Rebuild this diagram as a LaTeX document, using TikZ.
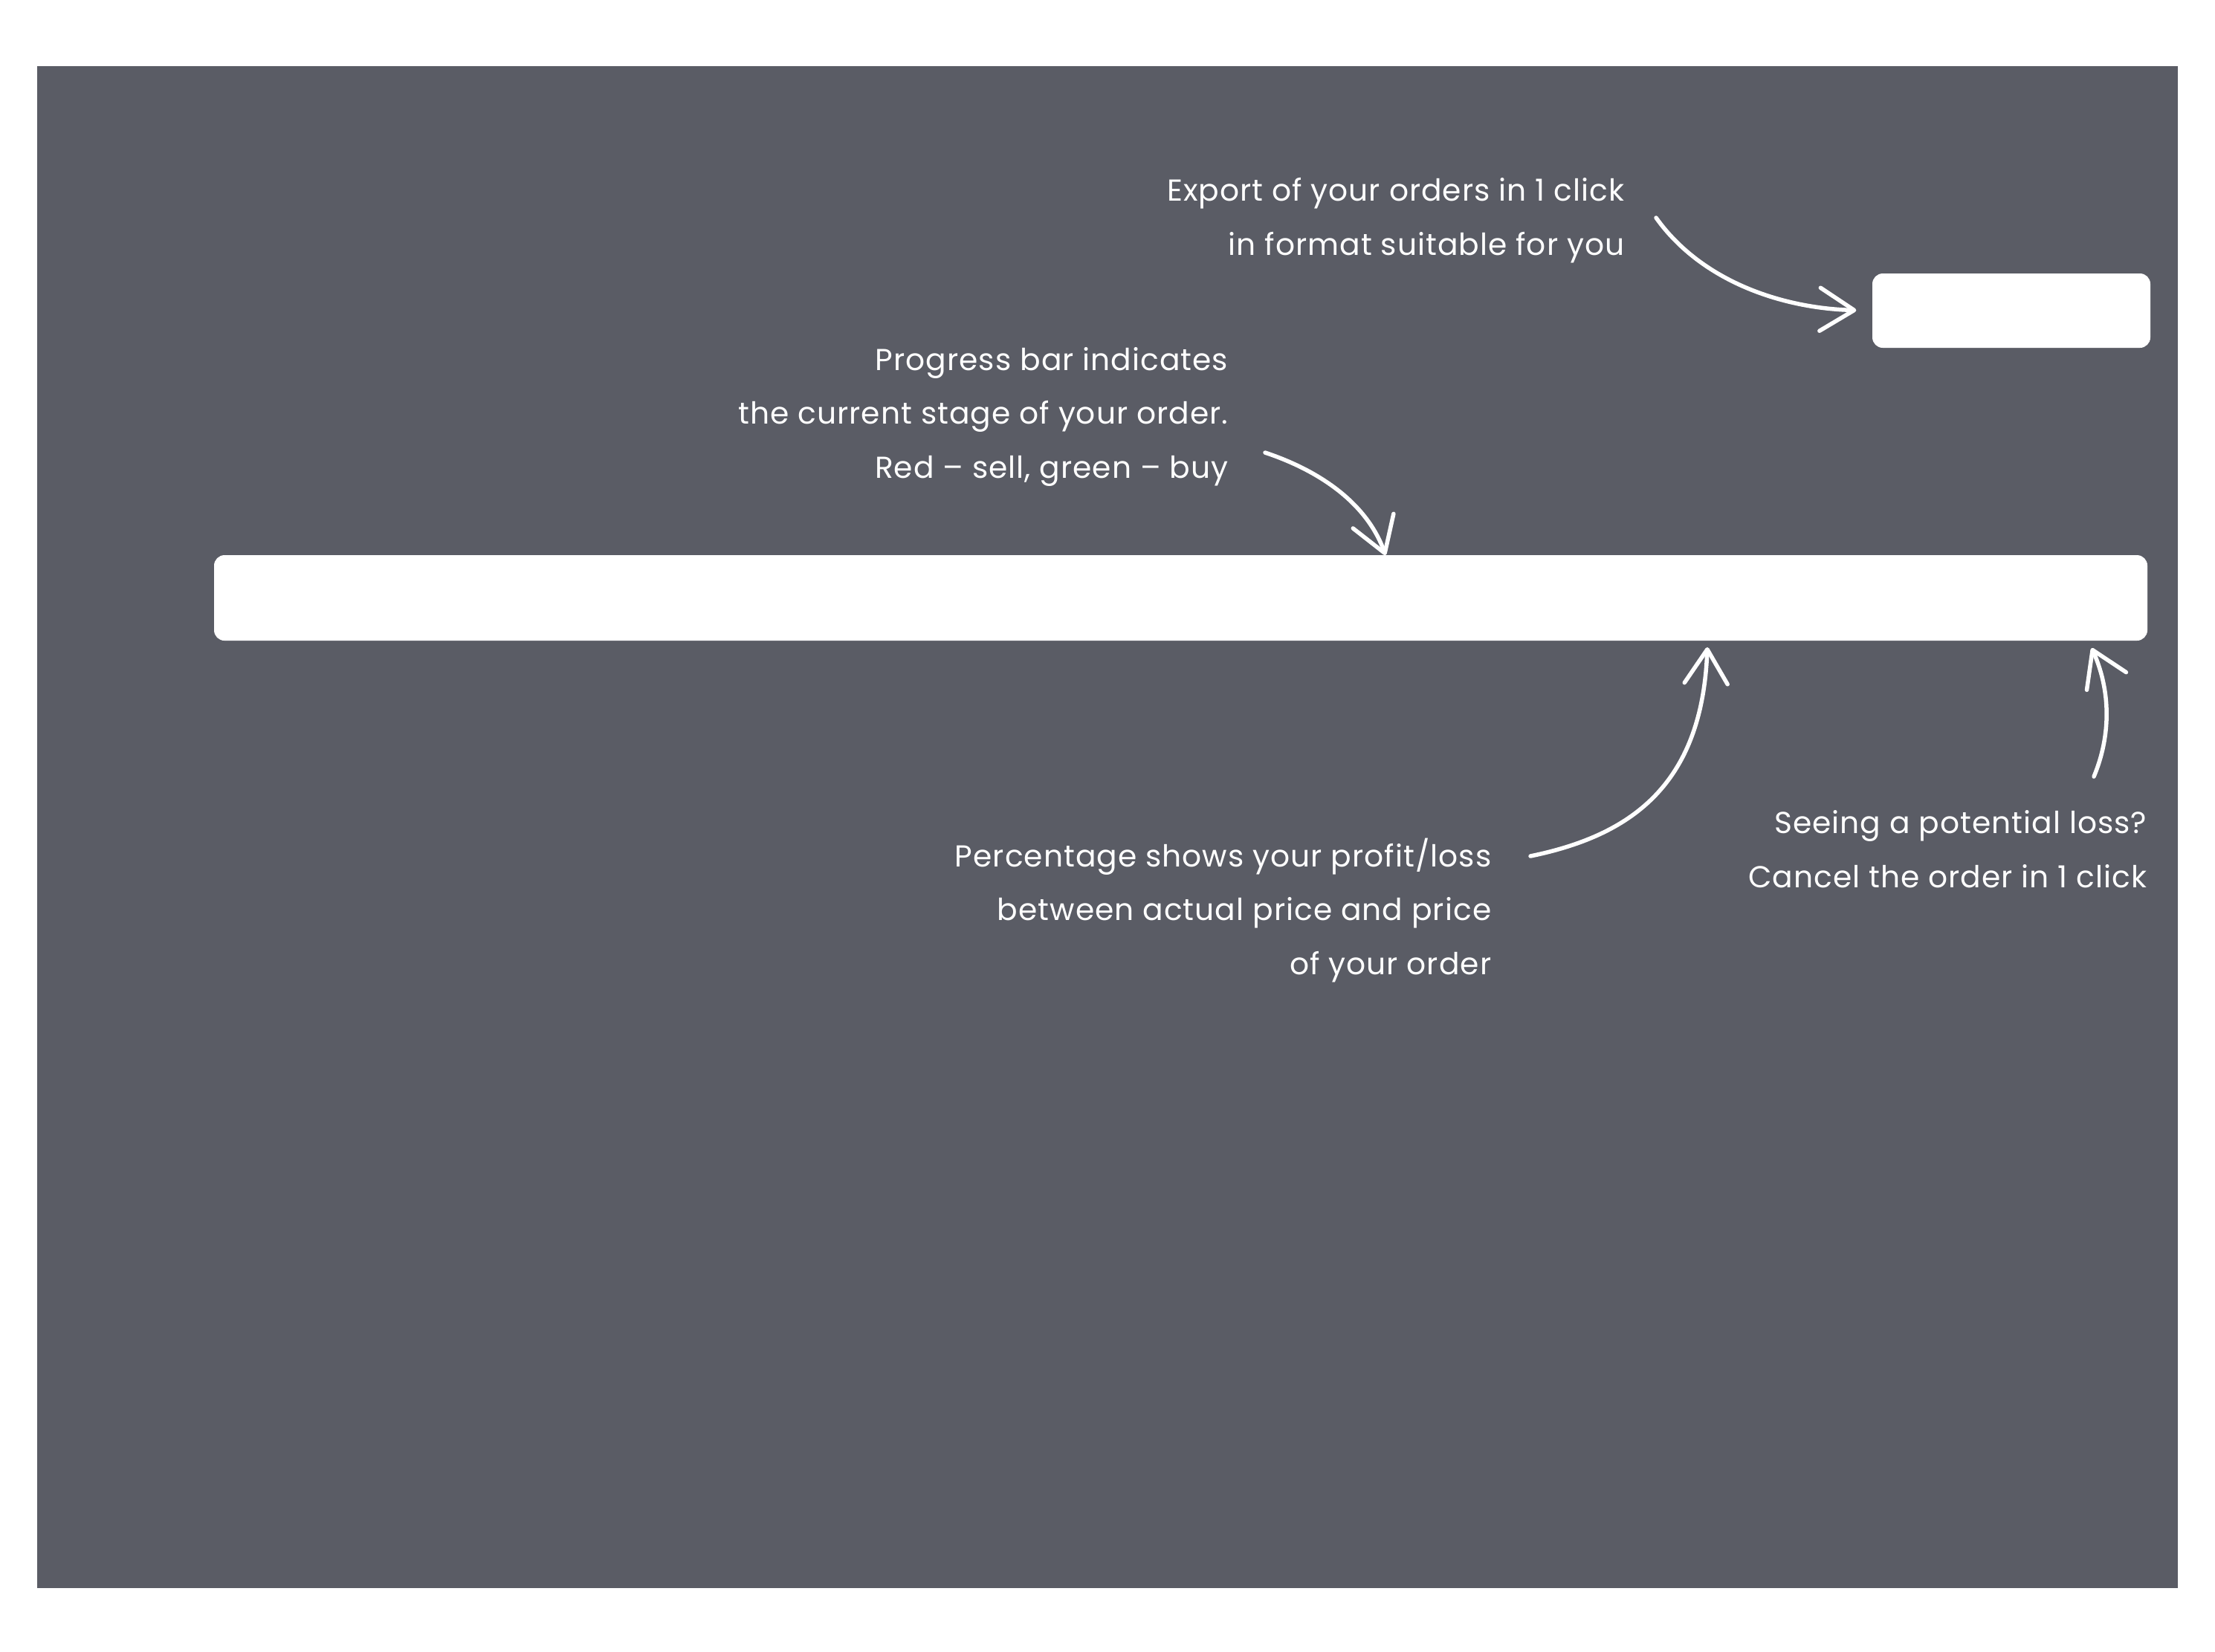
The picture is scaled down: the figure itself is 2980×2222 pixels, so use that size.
\documentclass[tikz,border=0pt]{standalone}
\usepackage{fontspec}
\setmainfont{Poppins}[LetterSpace=2.5]
\usepackage{xcolor}
\usepackage{tikz}
\usetikzlibrary{positioning, arrows.meta}
\definecolor{panel}{HTML}{5A5C65}

\begin{document}
\begin{tikzpicture}[x=0.1mm, y=-0.1mm,
  blk/.style={fill=white, rounded corners=1.4mm, inner sep=0pt},
  note/.style={text=white, align=right, anchor=base east, inner sep=0pt,
               font=\fontsize{11.6}{20.5}\selectfont},
  arr/.style={-{Straight Barb[round, length=4.6mm, width=5.8mm]}, white,
              line width=0.55mm, line cap=round}]
\useasboundingbox (0,0) rectangle (2980,2222);
\fill[white] (0,0) rectangle (2980,2222);
\fill[panel] (50,89) rectangle (2930,2137);
% boxes
\node[blk, minimum width=37.4mm, minimum height=10mm] (expbtn) at (2706,418) {};
\node[blk, minimum width=260.1mm, minimum height=11.5mm] (pbar) at (1588.5,804.5) {};
% notes (anchored at the baseline of their last line)
\node[note] (exptxt) at (2186,343) {Export of your orders in 1 click\\in format suitable for you};
\node[note] (pbtxt) at (1653,643) {Progress bar indicates\\the current stage of your order.\\Red -- sell, green -- buy};
\node[note] (pcttxt) at (2007,1311) {Percentage shows your profit/loss\\between actual price and price\\of your order};
\node[note] (cnltxt) at (2889,1194) {Seeing a potential loss?\\Cancel the order in 1 click};
% arrows
\coordinate (a1s) at (2228,293);
\coordinate (a2s) at (1702,609);
\coordinate (a2e) at (1864,747);
\coordinate (a3s) at (2059,1152);
\coordinate (a3e) at (2297,871);
\coordinate (a4s) at (2817,1045);
\coordinate (a4e) at (2814,872);
\draw[arr, shorten >=2.1mm] (a1s) .. controls (2290,380) and (2400,415) .. (expbtn.west);
\draw[arr] (a2s) .. controls (1780,635) and (1840,680) .. (a2e);
\draw[arr] (a3s) .. controls (2190,1125) and (2290,1060) .. (a3e);
\draw[arr] (a4s) .. controls (2840,990) and (2840,930) .. (a4e);
\end{tikzpicture}
\end{document}
